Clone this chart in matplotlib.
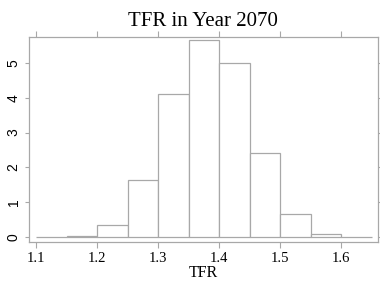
import numpy as np
import matplotlib
matplotlib.use('Agg')
import matplotlib.pyplot as plt

# histogram bins and heights (density)
bin_edges = [1.10, 1.15, 1.20, 1.25, 1.30, 1.35, 1.40, 1.45, 1.50, 1.55, 1.60, 1.65]
heights = [0.0, 0.02, 0.33, 1.65, 4.12, 5.65, 5.0, 2.42, 0.65, 0.09, 0.01]
x_ticks = [1.1, 1.2, 1.3, 1.4, 1.5, 1.6]
y_ticks = [0, 1, 2, 3, 4, 5]

grey = '#a8a8a8'
serif = 'Liberation Serif'

fig = plt.figure(figsize=(3.8, 2.82), dpi=100)
ax = fig.add_axes([0.0763, 0.142, 0.918, 0.727])

lefts = np.array(bin_edges[:-1])
widths = np.diff(bin_edges)
ax.bar(lefts, heights, width=widths, align='edge', facecolor='white',
       edgecolor=grey, linewidth=0.9)

ax.set_xlim(1.0885, 1.660)
ax.set_ylim(-0.144, 5.75)

ax.set_xticks(x_ticks)
ax.set_xticklabels([str(t) for t in x_ticks], fontfamily=serif, fontsize=10.5)
ax.set_yticks(y_ticks)
ax.set_yticklabels([str(t) for t in y_ticks], fontfamily='Liberation Sans',
                   fontsize=10, rotation=90, va='center')
ax.tick_params(axis='x', top=True, bottom=True, direction='out', length=4,
               color=grey, pad=3)
ax.tick_params(axis='y', left=True, right=True, direction='out', length=3,
               color=grey, pad=3)
ax.tick_params(axis='x', labeltop=False)
for s in ax.spines.values():
    s.set_color(grey)
    s.set_linewidth(0.9)

ax.set_xlabel('TFR', fontfamily=serif, fontsize=11.5, labelpad=0)
ax.set_title('TFR in Year 2070', fontfamily=serif, fontsize=15, pad=8)

fig.savefig('out.png', dpi=100)
